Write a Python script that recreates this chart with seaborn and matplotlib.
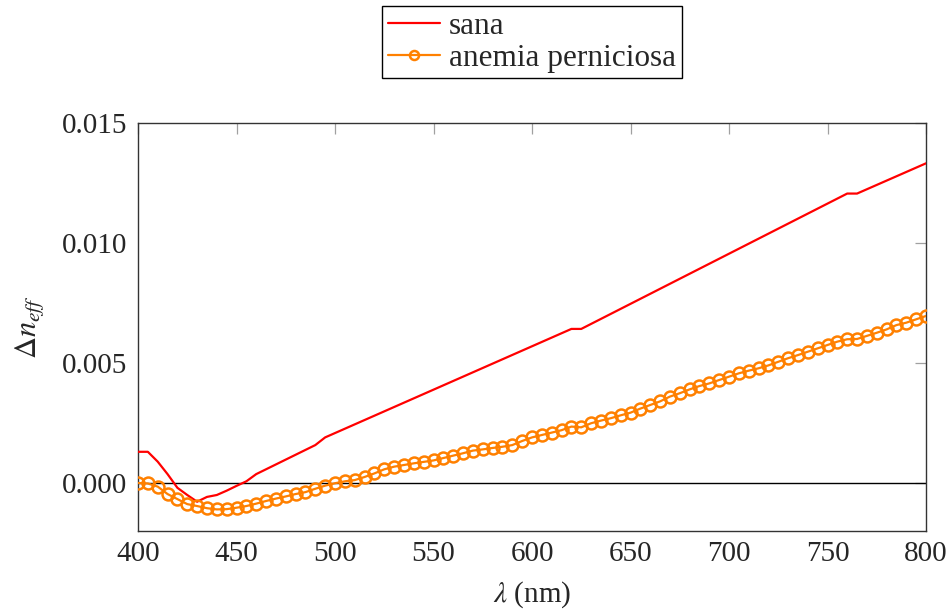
import numpy as np
import pandas as pd
import matplotlib
matplotlib.use("Agg")
import matplotlib.pyplot as plt
import seaborn as sns

# Wavelength samples (nm) and effective-index shift for each sample
lam_sana = [400, 405, 410, 415, 420, 425, 430, 435, 440, 445, 450, 455, 460,
            490, 495, 620, 625, 760, 765, 800]
dn_sana = [0.0013, 0.0013, 0.00089, 0.00037, -0.0002, -0.0005, -0.00078,
           -0.00058, -0.0005, -0.00032, -0.00012, 0.00007, 0.00037,
           0.00158, 0.0019, 0.00642, 0.00642, 0.01206, 0.01206, 0.01332]

lam_anemia = list(range(400, 805, 5))
dn_anemia = [
    0.0, -0.00002, -0.00015, -0.00046, -0.00067, -0.00088, -0.00096, -0.00105,
    -0.0011, -0.00109, -0.00103, -0.00096, -0.00086, -0.00075, -0.00065,
    -0.00056, -0.00046, -0.00038, -0.00024, -0.00011, -0.00001, 0.00007,
    0.00012, 0.00025, 0.0004, 0.00057, 0.00068, 0.00075, 0.00082, 0.00088,
    0.00094, 0.00104, 0.00114, 0.00124, 0.00135, 0.0014, 0.00146, 0.00151,
    0.00158, 0.00175, 0.0019, 0.002, 0.0021, 0.0022, 0.00235, 0.00232,
    0.00249, 0.0026, 0.0027, 0.00282, 0.00293, 0.0031, 0.00325, 0.0034,
    0.0036, 0.00374, 0.0039, 0.00404, 0.00415, 0.00429, 0.00443, 0.00457,
    0.00468, 0.00478, 0.0049, 0.00505, 0.0052, 0.00533, 0.00547, 0.00561,
    0.00575, 0.00589, 0.00599, 0.006, 0.00613, 0.00626, 0.0064, 0.00658,
    0.00668, 0.00682, 0.00696,
]

x_ticks = [400, 450, 500, 550, 600, 650, 700, 750, 800]
y_ticks = [0.0, 0.005, 0.010, 0.015]
y_tick_labels = ["0.000", "0.005", "0.010", "0.015"]

sns.set_style("white")
plt.rcParams["font.family"] = ["Liberation Serif", "DejaVu Serif"]
plt.rcParams["mathtext.fontset"] = "stix"

df_sana = pd.DataFrame({"lam": lam_sana, "dn": dn_sana})
df_anemia = pd.DataFrame({"lam": lam_anemia, "dn": dn_anemia})

fig = plt.figure(figsize=(9.49, 6.12), dpi=100)
ax = fig.add_axes([138 / 949, 1 - 531 / 612, (926 - 138) / 949, (531 - 123) / 612])

ax.axhline(0.0, color="black", lw=1.0, zorder=1)

sns.lineplot(data=df_sana, x="lam", y="dn", ax=ax, color="#ff0000", lw=1.6,
             label="sana", zorder=3)
sns.lineplot(data=df_anemia, x="lam", y="dn", ax=ax, color="#ff8000", lw=1.6,
             marker="o", markersize=8.6, markerfacecolor="none",
             markeredgecolor="#ff8000", markeredgewidth=1.8,
             label="anemia perniciosa", zorder=4)

ax.set_xlim(400, 800)
ax.set_ylim(-0.002, 0.015)
ax.set_xticks(x_ticks)
ax.set_xticklabels([str(v) for v in x_ticks])
ax.set_yticks(y_ticks)
ax.set_yticklabels(y_tick_labels)

ax.tick_params(direction="in", length=8, width=0.9, color="#a0a0a0",
               top=True, right=True, labelsize=21, pad=8)
ax.tick_params(axis="x", pad=7)

for s in ax.spines.values():
    s.set_color("#333333")
    s.set_linewidth(1.0)

ax.set_xlabel(r"$\lambda$ (nm)", fontsize=21)
ax.set_ylabel(r"$\Delta n_{eff}$", fontsize=22)
ax.xaxis.set_label_coords(0.5, -0.119)
ax.yaxis.set_label_coords(-0.117, 0.5)

leg = ax.legend(loc="upper center", bbox_to_anchor=(532 / 949, 1 - 6 / 612),
                bbox_transform=fig.transFigure, fontsize=22.5, frameon=True,
                fancybox=False, framealpha=1, edgecolor="black",
                handlelength=1.65, handletextpad=0.3, labelspacing=0.1,
                borderpad=0.18, borderaxespad=0)
leg.get_frame().set_linewidth(1.0)
for h in leg.legend_handles:
    if h.get_marker() not in (None, "None", ""):
        h.set_markersize(6.5)

fig.savefig("out.png", dpi=100)
